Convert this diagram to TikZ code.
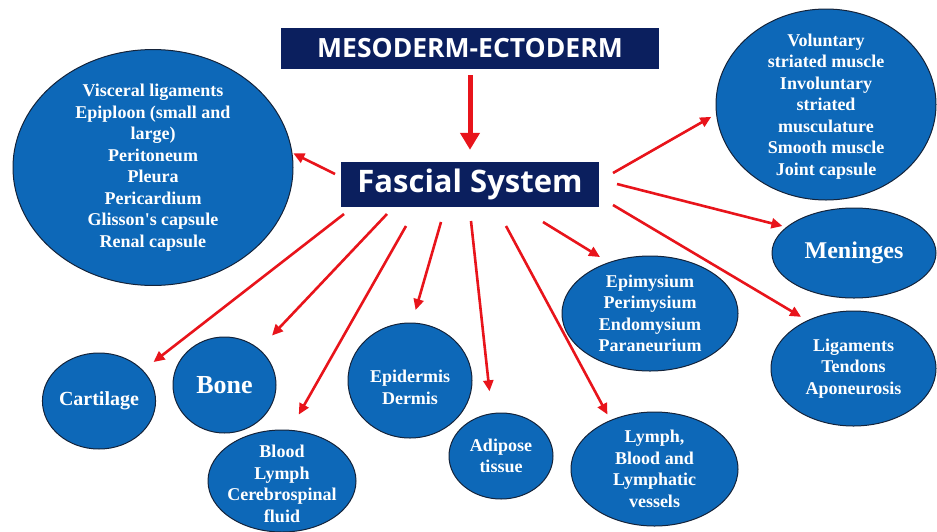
\documentclass[tikz,border=0pt]{standalone}
\usepackage{fontspec}
\setmainfont{Liberation Serif}[Ligatures=TeXOff]
\newfontfamily\boxfont{Open Sans}
\usetikzlibrary{arrows.meta,shapes.geometric}
\definecolor{navy}{HTML}{0B1F5E}
\definecolor{ellblue}{HTML}{0D68B8}
\definecolor{ellline}{HTML}{14233A}
\definecolor{arrred}{HTML}{E8141B}
\begin{document}
\begin{tikzpicture}[x=1pt,y=-1pt,
  ell/.style={ellipse, draw=ellline, line width=1pt, fill=ellblue, text=white, inner sep=0pt, align=center,
    font=\fontsize{18}{21.5}\selectfont\bfseries},
  hbox/.style={fill=navy, text=white, inner sep=0pt},
  arr/.style={draw=arrred, line width=2.6pt, -{Triangle[length=11pt,width=10pt]}},
  bigarr/.style={draw=arrred, line width=5pt, -{Triangle[length=17pt,width=19pt]}}]
\useasboundingbox (0,0) rectangle (937,531);

% header boxes
\node[hbox, minimum width=378pt, minimum height=41pt, font=\boxfont\fontsize{26.5}{30}\selectfont\bfseries] (meso) at (470,48.5) {MESODERM-ECTODERM};
\node[hbox, minimum width=258pt, minimum height=45pt, font=\boxfont\fontsize{31}{34}\selectfont\bfseries] (fs) at (470,184.5) {Fascial System};

% ellipses
\node[ell, minimum width=280pt, minimum height=227pt] (visc) at (153,167.5)
  {Visceral ligaments\\Epiploon (small and\\large)\\Peritoneum\\Pleura\\Pericardium\\Glisson's capsule\\Renal capsule};
\node[ell, minimum width=220pt, minimum height=191pt,
  label={[text=white, align=center, font=\fontsize{18}{21.5}\selectfont\bfseries, yshift=-2pt]center:Voluntary\\striated muscle\\Involuntary\\striated\\musculature\\Smooth muscle\\Joint capsule}] (vol) at (826,104.5) {};
\node[ell, minimum width=164pt, minimum height=90pt, font=\fontsize{24}{28}\selectfont\bfseries] (men) at (854,253) {Meninges};
\node[ell, minimum width=165pt, minimum height=115pt] (lig) at (853.5,368.5) {Ligaments\\Tendons\\Aponeurosis};
\node[ell, minimum width=176pt, minimum height=115pt] (epim) at (650,313.5) {Epimysium\\Perimysium\\Endomysium\\Paraneurium};
\node[ell, minimum width=167pt, minimum height=114pt] (lymph) at (654.5,469) {Lymph,\\Blood and\\Lymphatic\\vessels};
\node[ell, minimum width=104pt, minimum height=86pt] (adip) at (501,456) {Adipose\\tissue};
\node[ell, minimum width=124pt, minimum height=115pt,
  label={[text=white, align=center, font=\fontsize{18}{21.5}\selectfont\bfseries, yshift=-7pt]center:Epidermis\\Dermis}] (epid) at (410,380.5) {};
\node[ell, minimum width=148pt, minimum height=102pt,
  label={[text=white, align=center, font=\fontsize{18}{21.5}\selectfont\bfseries, yshift=-3pt]center:Blood\\Lymph\\Cerebrospinal\\fluid}] (blood) at (282,481) {};
\node[ell, minimum width=103pt, minimum height=96pt, font=\fontsize{26}{30}\selectfont\bfseries] (bone) at (224.5,385) {Bone};
\node[ell, minimum width=102pt, minimum height=96pt, font=\fontsize{20}{24}\selectfont\bfseries] (cart) at (99,401) {Cartilage};

% arrow start points
\coordinate (sVisc) at (335,174);
\coordinate (sVol) at (613,173);
\coordinate (sMen) at (617,184);
\coordinate (sLig) at (613,205);
\coordinate (sEpim) at (543,222);
\coordinate (sLymph) at (506,226);
\coordinate (sAdip) at (471,221);
\coordinate (sEpid) at (441,222);
\coordinate (sBlood) at (406,226);
\coordinate (sBone) at (387,214);
\coordinate (sCart) at (344,214);

% arrows
\draw[bigarr, shorten <=6pt, shorten >=12pt] (meso.south) -- (fs.north);
\draw[arr, shorten >=1pt] (sVisc) -- (visc.6);
\draw[arr, shorten >=5.5pt] (sVol) -- (vol.-175);
\draw[arr, shorten >=4pt] (sMen) -- (men.159);
\draw[arr, shorten >=7pt] (sLig) -- (lig.134);
\draw[arr, shorten >=10pt] (sEpim) -- (epim.129);
\draw[arr, shorten >=6.3pt] (sLymph) -- (lymph.132);
\draw[arr, shorten >=22pt] (sAdip) -- (adip.102);
\draw[arr, shorten >=13pt] (sEpid) -- (epid.88);
\draw[arr, shorten >=17.5pt] (sBlood) -- (blood.81);
\draw[arr, shorten >=18.5pt] (sBone) -- (bone.46);
\draw[arr, shorten >=13.3pt] (sCart) -- (cart.35);
\end{tikzpicture}
\end{document}
